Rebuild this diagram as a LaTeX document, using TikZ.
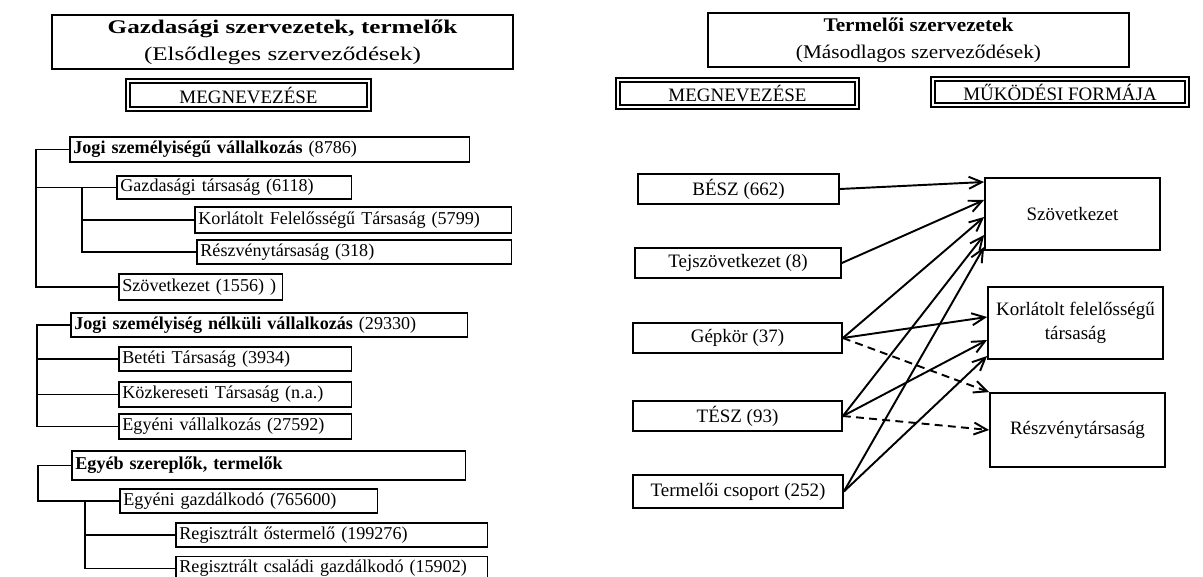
\documentclass[tikz,border=0pt]{standalone}
\usepackage{fontspec}
\setmainfont{Liberation Serif}
\newfontfamily\wideserif{Liberation Serif}[FakeStretch=1.3]
\newfontfamily\semiwideserif{Liberation Serif}[FakeStretch=1.1]
\usepackage{tikz}
\usetikzlibrary{arrows.meta}

\begin{document}
\begin{tikzpicture}[
        title/.style={draw, line width=1.6pt, align=center, inner sep=0pt},
        head/.style={draw, double, double distance=1.3pt, line width=0.95pt, inner sep=0pt, font=\fontsize{10.8}{13}\selectfont},
        entry/.style={draw, line width=1pt, anchor=west, inner xsep=2pt, inner ysep=0pt, minimum height=0.5cm, text width=#1, align=left, font=\fontsize{10.3}{12}\selectfont},
        org/.style={draw, line width=1pt, minimum width=4.15cm, minimum height=0.6cm, inner sep=0pt, font=\fontsize{10.8}{13}\selectfont},
        form/.style={draw, line width=1pt, minimum width=3.5cm, minimum height=1.44cm, align=center, inner sep=0pt, font=\fontsize{10.8}{14}\selectfont},
        tree/.style={line width=1pt},
        arrow/.style={-{Straight Barb[length=2.6mm,width=2.4mm]}, line width=1.1pt},
        optional/.style={arrow, dash pattern=on 4.5pt off 3pt}
      ]
        \useasboundingbox (0,0) rectangle (24.06,-11.54);

        % left side: primary organisations
        \node[title, minimum width=9.22cm, minimum height=1.08cm, font=\wideserif\fontsize{11}{15.5}\selectfont] (title1) at (5.65,-0.84) {\textbf{Gazdasági szervezetek, termelők}\\(Elsődleges szerveződések)};
        \node[head, minimum width=4.81cm, minimum height=0.56cm] (head1) at (4.97,-1.9) {MEGNEVEZÉSE};

        \node[entry=7.85cm] (jogi) at (1.38,-2.99) {\textbf{Jogi személyiségű vállalkozás} (8786)};
        \node[entry=4.55cm, minimum height=0.46cm] (gazd) at (2.32,-3.75) {Gazdasági társaság (6118)};
        \node[entry=6.19cm, minimum height=0.52cm] (kft) at (3.88,-4.4) {Korlátolt Felelősségű Társaság (5799)};
        \node[entry=6.15cm, minimum height=0.48cm] (rt) at (3.92,-5.04) {Részvénytársaság (318)};
        \node[entry=3.13cm, minimum height=0.52cm] (szov) at (2.36,-5.74) {Szövetkezet (1556) )};

        \node[entry=7.79cm, minimum height=0.48cm] (nelk) at (1.4,-6.5) {\textbf{Jogi személyiség nélküli vállalkozás} (29330)};
        \node[entry=4.51cm, minimum height=0.48cm] (bt) at (2.36,-7.18) {Betéti Társaság (3934)};
        \node[entry=4.51cm] (kkt) at (2.36,-7.89) {Közkereseti Társaság (n.a.)};
        \node[entry=4.51cm] (ev) at (2.36,-8.53) {Egyéni vállalkozás (27592)};

        \node[entry=7.73cm, minimum height=0.58cm] (egyeb) at (1.42,-9.31) {\textbf{Egyéb szereplők, termelők}};
        \node[entry=5.01cm, minimum height=0.48cm] (egazd) at (2.38,-10.02) {Egyéni gazdálkodó (765600)};
        \node[entry=6.09cm, minimum height=0.48cm] (ost) at (3.5,-10.7) {Regisztrált őstermelő (199276)};
        \node[entry=6.09cm, minimum height=0.48cm] (csal) at (3.5,-11.37) {Regisztrált családi gazdálkodó (15902)};

        \coordinate (s1) at (0.72,-4);
        \coordinate (s2) at (1.64,-4.5);
        \coordinate (s3) at (0.74,-7.5);
        \coordinate (s4) at (0.76,-9.6);
        \coordinate (s5) at (1.7,-10.7);

        \draw[tree] (jogi.west) -| (s1) |- (szov.west);
        \draw[tree] (s1 |- gazd.west) -- (gazd.west);
        \draw[tree] (s2 |- gazd.west) |- (rt.west);
        \draw[tree] (s2 |- kft.west) -- (kft.west);
        \draw[tree] (nelk.west) -| (s3) |- (ev.west);
        \draw[tree] (s3 |- bt.west) -- (bt.west);
        \draw[tree] (s3 |- kkt.west) -- (kkt.west);
        \draw[tree] (egyeb.west) -| (s4) |- (egazd.west);
        \draw[tree] (s5 |- egazd.west) |- (csal.west);
        \draw[tree] (s5 |- ost.west) -- (ost.west);

        % right side: secondary organisations
        \node[title, minimum width=8.42cm, minimum height=1.08cm, font=\semiwideserif\fontsize{11}{15.5}\selectfont] (title2) at (18.37,-0.8) {\textbf{Termelői szervezetek}\\(Másodlagos szerveződések)};
        \node[head, minimum width=4.77cm, minimum height=0.54cm] (head2) at (14.75,-1.87) {MEGNEVEZÉSE};
        \node[head, minimum width=5.07cm, minimum height=0.52cm] (head3) at (21.2,-1.84) {MŰKÖDÉSI FORMÁJA};

        \node[org, minimum width=4.02cm] (besz) at (14.77,-3.78) {BÉSZ (662)};
        \node[org, minimum width=4.12cm] (tej) at (14.76,-5.26) {Tejszövetkezet (8)};
        \node[org, minimum width=4.18cm] (gep) at (14.75,-6.76) {Gépkör (37)};
        \node[org, minimum width=4.18cm] (tesz) at (14.75,-8.32) {TÉSZ (93)};
        \node[org, minimum width=4.2cm, minimum height=0.66cm] (term) at (14.76,-9.83) {Termelői csoport (252)};

        \node[form] (tszov) at (21.45,-4.28) {Szövetkezet};
        \node[form] (tkft) at (21.51,-6.46) {Korlátolt felelősségű\\társaság};
        \node[form, minimum height=1.48cm] (trt) at (21.55,-8.6) {Részvénytársaság};

        \draw[arrow] (besz.east) -- ([yshift=0.64cm]tszov.west);
        \draw[arrow] (tej.east) -- ([yshift=0.28cm]tszov.west);
        \draw[arrow] (gep.east) -- ([yshift=-0.06cm]tszov.west);
        \draw[arrow] (gep.east) -- ([yshift=0.12cm]tkft.west);
        \draw[optional] (gep.east) -- (trt.north west);
        \draw[arrow] (tesz.east) -- ([yshift=-0.42cm]tszov.west);
        \draw[arrow] (tesz.east) -- ([yshift=-0.34cm]tkft.west);
        \draw[optional] (tesz.east) -- (trt.west);
        \draw[arrow] (term.east) -- ([yshift=-0.66cm]tszov.west);
        \draw[arrow] (term.east) -- ([yshift=-0.66cm]tkft.west);
      \end{tikzpicture}
\end{document}
